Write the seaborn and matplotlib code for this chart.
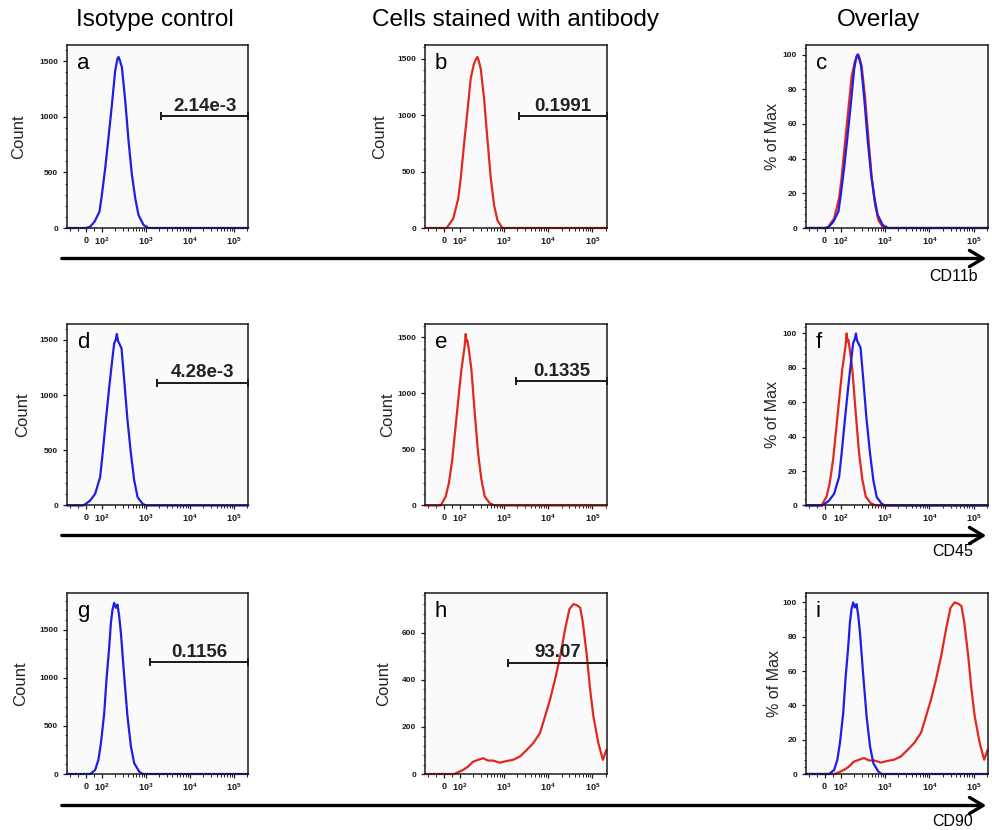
import numpy as np
import matplotlib
matplotlib.use("Agg")
import matplotlib.pyplot as plt
from matplotlib.ticker import FixedLocator, MultipleLocator
from matplotlib.patches import FancyArrowPatch
import seaborn as sns

# ---------------------------------------------------------------- data
# Fluorescence channel values and event counts for each histogram.
iso_cd11b_x = [-118, 0, 25, 54, 85, 100, 119, 141, 169, 200, 225, 238, 252, 285, 339, 403, 480, 571, 677, 881, 1150, 210000]
iso_cd11b_y = [0, 0, 10, 57, 147, 298, 540, 810, 1110, 1412, 1520, 1538, 1515, 1443, 1141, 780, 479, 268, 117, 27, 0, 0]

ab_cd11b_x = [-118, 0, 17, 58, 89, 104, 123, 147, 175, 208, 235, 247, 262, 295, 351, 417, 499, 593, 705, 913, 210000]
ab_cd11b_y = [0, 0, 0, 83, 260, 437, 733, 1027, 1323, 1456, 1500, 1514, 1490, 1412, 1146, 792, 437, 201, 68, 0, 0]

iso_cd45_x = [-118, -15, 27, 58, 89, 104, 123, 147, 175, 190, 205, 219, 232, 247, 279, 321, 381, 456, 542, 645, 838, 1000, 210000]
iso_cd45_y = [0, 0, 45, 106, 258, 470, 773, 1076, 1348, 1470, 1500, 1555, 1490, 1470, 1424, 1136, 773, 470, 227, 76, 15, 0, 0]

ab_cd45_x = [-118, -20, 11, 31, 52, 73, 94, 108, 128, 135, 140, 147, 158, 181, 216, 257, 306, 364, 473, 614, 210000]
ab_cd45_y = [0, 0, 80, 200, 410, 708, 1007, 1216, 1425, 1530, 1460, 1475, 1400, 1216, 828, 469, 230, 80, 20, 0, 0]

iso_cd90_x = [-118, 27, 58, 78, 94, 113, 127, 147, 160, 174, 190, 208, 226, 247, 270, 321, 381, 456, 542, 705, 838, 210000]
iso_cd90_y = [0, 0, 42, 146, 320, 632, 979, 1326, 1569, 1708, 1778, 1726, 1760, 1639, 1465, 1014, 597, 284, 111, 24, 0, 0]

ab_cd90_x = [-118, 63, 84, 117, 152, 197, 257, 333, 433, 562, 797, 1130, 1590, 2270, 3240, 4570, 6480, 8420,
             10960, 14200, 18600, 24000, 30000, 37000, 44200, 52600, 60600, 74700, 88600, 105000, 136000, 172000, 206000]
ab_cd90_y = [0, 0, 6, 17, 31, 52, 60, 67, 57, 57, 48, 55, 60, 74, 102, 131, 174, 244,
             316, 401, 500, 614, 699, 721, 716, 706, 643, 500, 358, 244, 131, 60, 102]

markers = ["CD11b", "CD45", "CD90"]
column_titles = ["Isotype control", "Cells stained with antibody", "Overlay"]
panel_letters = [["a", "b", "c"], ["d", "e", "f"], ["g", "h", "i"]]

# Positive gate for each single histogram: left edge, height, percentage label
gate_left = [[2200, 2200], [1740, 1850], [1250, 1250]]
gate_level = [[1005, 992], [1112, 1111], [1159, 472]]
gate_label = [["2.14e-3", "0.1991"], ["4.28e-3", "0.1335"], ["0.1156", "93.07"]]

# Count axis ranges per row (isotype, antibody)
count_max = [[1645, 1620], [1645, 1620], [1880, 768]]
count_step = [[500, 500], [500, 500], [500, 200]]

x_tick_values = [0, 100, 1000, 10000, 100000]
x_tick_labels = [r"$\mathbf{0}$", r"$\mathbf{10^2}$", r"$\mathbf{10^3}$", r"$\mathbf{10^4}$", r"$\mathbf{10^5}$"]

X_MIN, X_MAX = -118, 210000

series = [
    (iso_cd11b_x, iso_cd11b_y, ab_cd11b_x, ab_cd11b_y),
    (iso_cd45_x, iso_cd45_y, ab_cd45_x, ab_cd45_y),
    (iso_cd90_x, iso_cd90_y, ab_cd90_x, ab_cd90_y),
]

# ---------------------------------------------------------------- style
sns.set_style("white")
plt.rcParams["font.family"] = ["Liberation Sans", "DejaVu Sans"]
plt.rcParams["mathtext.fontset"] = "custom"
plt.rcParams["mathtext.rm"] = "Liberation Sans"
plt.rcParams["mathtext.bf"] = "Liberation Sans:bold"

BLUE = "#1e1ee6"
RED = "#e2281e"
INK = "#1a1a1a"

W, H = 992, 830
fig = plt.figure(figsize=(W / 100, H / 100), dpi=100)
fig.patch.set_facecolor("white")

col_left = [66.7, 424.7, 805.5]
col_width = [181.6, 182.0, 182.5]
row_top = [45, 324, 593]
row_bottom = [228, 505.5, 774]

ylabel_x = [[-0.262, -0.245, -0.182], [-0.243, -0.205, -0.182], [-0.253, -0.227, -0.172]]

minor_x = [-100, -50, 50] + [m * 10 ** e for e in (2, 3, 4) for m in range(2, 10)] + [200000]


def add_axes_px(left, top, width, bottom):
    return fig.add_axes([left / W, 1 - bottom / H, width / W, (bottom - top) / H])


def style_axes(ax, ymax, ystep):
    ax.set_xscale("symlog", linthresh=100, linscale=0.327)
    ax.set_xlim(X_MIN, X_MAX)
    ax.set_ylim(0, ymax)
    ax.set_facecolor("#fafafa")
    for s in ax.spines.values():
        s.set_visible(True)
        s.set_linewidth(1.1)
        s.set_color(INK)
    ax.xaxis.set_major_locator(FixedLocator(x_tick_values))
    ax.set_xticklabels(x_tick_labels)
    ax.xaxis.set_minor_locator(FixedLocator(minor_x))
    ax.yaxis.set_major_locator(MultipleLocator(ystep))
    ax.yaxis.set_minor_locator(MultipleLocator(ystep / 5))
    ax.tick_params(axis="x", which="major", bottom=True, direction="out", length=3, width=0.9,
                   labelsize=6.5, pad=2, colors=INK)
    ax.tick_params(axis="x", which="minor", bottom=True, direction="out", length=2, width=0.7, colors=INK)
    ax.tick_params(axis="y", which="major", left=True, direction="out", length=3, width=0.9,
                   labelsize=6, pad=3, colors=INK)
    ax.tick_params(axis="y", which="minor", left=True, direction="out", length=1.5, width=0.6, colors=INK)
    for lbl in ax.get_yticklabels():
        lbl.set_fontweight("bold")
    ax.set_xlabel("")


def draw_hist(ax, x, y, color):
    sns.lineplot(x=x, y=y, ax=ax, color=color, linewidth=1.6, estimator=None, sort=False,
                 legend=False, clip_on=False)


def draw_gate(ax, left, level, label):
    ax.plot([left, X_MAX], [level, level], color=INK, lw=1.4, marker="|", ms=5.5, mew=1.4,
            clip_on=False, zorder=4)
    ends = ax.transData.transform([(left, level), (X_MAX, level)])
    mid = ax.transAxes.inverted().transform(ends.mean(axis=0))
    ax.annotate(label, xy=(mid[0], mid[1]), xycoords="axes fraction", xytext=(0, 1.0),
                textcoords="offset points", ha="center", va="bottom", fontsize=13.5,
                fontweight="bold", color="#222222")


for r in range(3):
    iso_x, iso_y, ab_x, ab_y = series[r]
    for c in range(3):
        ax = add_axes_px(col_left[c], row_top[r], col_width[c], row_bottom[r])
        if c < 2:
            x, y = (iso_x, iso_y) if c == 0 else (ab_x, ab_y)
            color = BLUE if c == 0 else RED
            style_axes(ax, count_max[r][c], count_step[r][c])
            draw_hist(ax, x, y, color)
            draw_gate(ax, gate_left[r][c], gate_level[r][c], gate_label[r][c])
            ax.set_ylabel("Count", fontsize=12, va="center")
        else:
            style_axes(ax, 105.5, 20)
            ab_pct = np.array(ab_y) / max(ab_y) * 100
            iso_pct = np.array(iso_y) / max(iso_y) * 100
            draw_hist(ax, ab_x, ab_pct, RED)
            draw_hist(ax, iso_x, iso_pct, BLUE)
            ax.set_ylabel("% of Max", fontsize=11.5, va="center")
        ax.set_xlabel("")
        ax.yaxis.set_label_coords(ylabel_x[r][c], 0.5)
        ax.text(0.055, 0.955, panel_letters[r][c], transform=ax.transAxes, ha="left", va="top",
                fontsize=16, color="black")

# Column headings
for title, cx in zip(column_titles, [155, 515, 878]):
    fig.text(cx / W, 1 - 26 / H, title, ha="center", va="baseline", fontsize=17.5, color="black")

# Marker axis arrows beneath each row
arrow_y = [258.5, 535.5, 805.5]
marker_baseline = [281, 556, 826]
for name, ay, ly in zip(markers, arrow_y, marker_baseline):
    arr = FancyArrowPatch((59 / W, 1 - ay / H), (989 / W, 1 - ay / H), transform=fig.transFigure,
                          arrowstyle="->,head_length=0.75,head_width=0.45", mutation_scale=13,
                          lw=2.4, color="black")
    fig.add_artist(arr)
    fig.text(953 / W, 1 - ly / H, name, ha="center", va="baseline", fontsize=11.5, color="black")

fig.savefig("out.png", dpi=100, facecolor="white")
